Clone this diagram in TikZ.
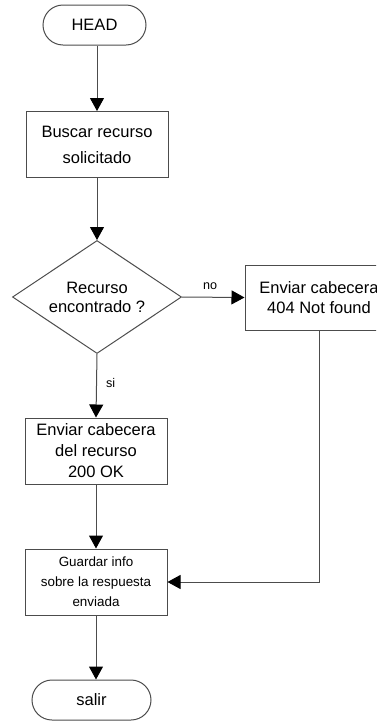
\documentclass[tikz,border=0pt]{standalone}
\usepackage{fontspec}
\setmainfont{Liberation Sans}
\usetikzlibrary{arrows.meta,shapes.geometric}
\begin{document}
\begin{tikzpicture}[x=1pt,y=-1pt,
  line/.style={draw=black!70, line width=1pt},
  arr/.style={line, -{Triangle[length=13pt,width=14pt,fill=black,color=black]}},
  term/.style={draw=black!70, line width=1pt, rounded corners=20pt, minimum height=40pt, inner sep=0pt, font=\fontsize{16.5}{20}\selectfont},
  proc/.style={draw=black!70, line width=1pt, minimum width=142pt, minimum height=66pt, inner sep=0pt, align=center, font=\fontsize{16.5}{26}\selectfont},
  dec/.style={draw=black!70, line width=1pt, diamond, shape aspect=1.5, minimum width=169pt, minimum height=113pt, inner sep=0pt, align=center, font=\fontsize{16.5}{19}\selectfont},
  lbl/.style={font=\fontsize{12.6}{15}\selectfont, inner sep=0pt}]
\useasboundingbox (0,0) rectangle (376,721);
\clip (0,0) rectangle (376,721);
\node[term, minimum width=103pt] (head) at (94.5,25) {HEAD};
\node[proc] (buscar) at (97,144.5) {Buscar recurso\\solicitado};
\node[dec] (dia) at (97,297) {Recurso\\encontrado ?};
\node[proc, minimum width=148pt, minimum height=65pt, font=\fontsize{16.5}{20}\selectfont] (nf) at (319,297.5) {Enviar cabecera\\404 Not found};
\node[proc, font=\fontsize{16.5}{21}\selectfont] (ok) at (96,451) {Enviar cabecera\\del recurso\\200 OK};
\node[proc, font=\fontsize{13.4}{20}\selectfont] (guard) at (96,582) {Guardar info\\sobre la respuesta\\enviada};
\node[term, minimum width=119pt] (salir) at (91.5,700) {salir};
\draw[arr] (buscar.north |- head.south) -- (buscar.north);
\draw[arr] (buscar.south) -- (dia.north);
\draw[arr] (dia.east) -- node[lbl, above=7pt, pos=0.45] (no) {no} (nf.west);
\draw[arr] (dia.south) -- node[lbl, right=9pt, pos=0.45] (si) {si} (ok.north);
\draw[arr] (ok.south) -- (guard.north);
\draw[arr] (nf.south) |- (guard.east);
\draw[arr] (guard.south) -- (guard.south |- salir.north);
\end{tikzpicture}
\end{document}
